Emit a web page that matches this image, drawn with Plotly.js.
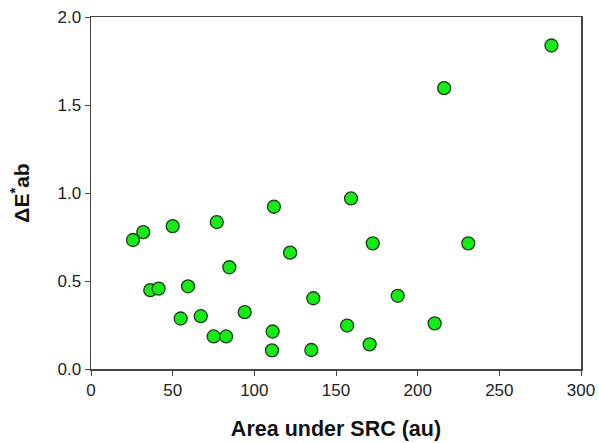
<!DOCTYPE html>
<html>
<head>
<meta charset="utf-8">
<script src="https://cdn.plot.ly/plotly-3.0.1.min.js"></script>
<style>html,body{margin:0;padding:0;background:#fff;}</style>
</head>
<body>
<div id="chart" style="width:599px;height:443px;"></div>
<script>
var areaSRC = [25.7, 32.0, 50.0, 77.0, 112.0, 121.9, 84.7, 36.3, 41.4, 59.4, 54.9, 67.2, 94.1, 75.1, 82.7, 111.2, 110.8,
               159.2, 172.5, 231.0, 136.1, 187.8, 156.8, 210.4, 134.9, 170.6, 216.2, 281.9];
var deltaE  = [0.733, 0.778, 0.812, 0.835, 0.922, 0.661, 0.578, 0.448, 0.457, 0.470, 0.287, 0.300, 0.323, 0.185, 0.185, 0.213, 0.106,
               0.969, 0.714, 0.714, 0.402, 0.416, 0.247, 0.259, 0.108, 0.140, 1.596, 1.838];
var xTicks = [0, 50, 100, 150, 200, 250, 300];
var yTicks = [0, 0.5, 1.0, 1.5, 2.0];
var yTickText = ['0.0', '0.5', '1.0', '1.5', '2.0'];

var trace = {
  x: areaSRC, y: deltaE, type: 'scatter', mode: 'markers',
  marker: {size: 13, color: '#14ec14', line: {color: '#1d3d1d', width: 1.3}},
  cliponaxis: false
};
var fontFam = 'Arial, "Liberation Sans", sans-serif';
var layout = {
  width: 599, height: 443,
  margin: {l: 91, r: 18, t: 17, b: 74},
  paper_bgcolor: '#fff', plot_bgcolor: '#fff',
  showlegend: false,
  font: {family: fontFam, size: 17, color: '#222'},
  xaxis: {
    range: [0, 300], tickvals: xTicks,
    ticks: 'outside', ticklen: 5, tickwidth: 1, tickcolor: '#444',
    showline: true, linecolor: '#444', linewidth: 1.5, mirror: true,
    showgrid: false, zeroline: false,
    tickfont: {size: 17, color: '#222'},
    title: {text: '<b>Area under SRC (au)</b>', font: {size: 21.5, color: '#111'}, standoff: 22}
  },
  yaxis: {
    range: [0, 2], tickvals: yTicks, ticktext: yTickText,
    ticks: 'outside', ticklen: 5, tickwidth: 1, tickcolor: '#444',
    showline: true, linecolor: '#444', linewidth: 1.5, mirror: true,
    showgrid: false, zeroline: false,
    tickfont: {size: 17, color: '#222'},
    title: {text: '<b>ΔE<sup>*</sup>ab</b>', font: {size: 21, color: '#111'}, standoff: 22}
  }
};
Plotly.newPlot('chart', [trace], layout, {displayModeBar: false, staticPlot: true});
</script>
</body>
</html>
